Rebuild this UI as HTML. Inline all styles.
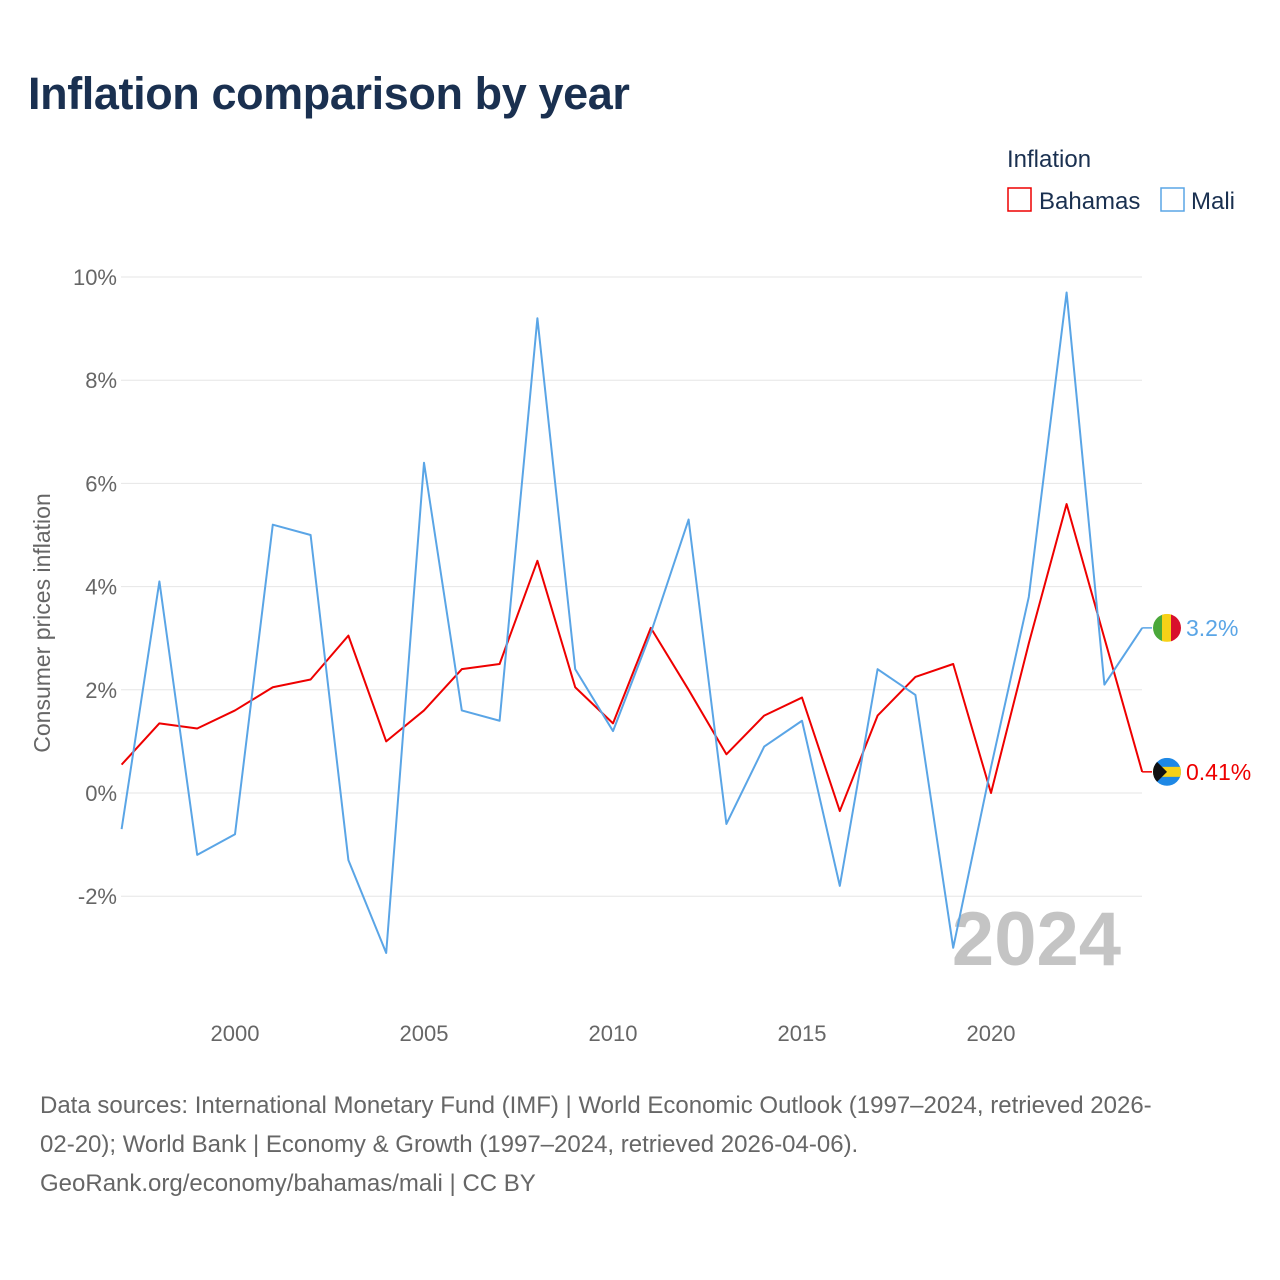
<!DOCTYPE html>
<html><head><meta charset="utf-8">
<style>
body{margin:0;background:#fff;font-family:"Liberation Sans",sans-serif;}
#wrap{position:relative;width:1280px;height:1280px;overflow:hidden;}
h1{position:absolute;left:28px;top:68px;margin:0;font-size:45px;font-weight:bold;color:#1a3050;letter-spacing:-0.4px;}
.src{position:absolute;left:40px;top:1086px;font-size:24px;line-height:39px;color:#666;width:1240px;white-space:nowrap;}
</style></head><body>
<div id="wrap">
<h1>Inflation comparison by year</h1>
<svg id="chart" width="1280" height="1280" style="position:absolute;left:0;top:0"></svg>
<div class="src">Data sources: International Monetary Fund (IMF) | World Economic Outlook (1997–2024, retrieved 2026-<br>02-20); World Bank | Economy &amp; Growth (1997–2024, retrieved 2026-04-06).<br>GeoRank.org/economy/bahamas/mali | CC BY</div>
</div>
<script>
const years=[1997,1998,1999,2000,2001,2002,2003,2004,2005,2006,2007,2008,2009,2010,2011,2012,2013,2014,2015,2016,2017,2018,2019,2020,2021,2022,2023,2024];
const bahamas=[0.55,1.35,1.25,1.6,2.05,2.2,3.05,1.0,1.6,2.4,2.5,4.5,2.05,1.35,3.2,2.0,0.75,1.5,1.85,-0.35,1.5,2.25,2.5,0.0,2.9,5.6,3.0,0.41];
const mali=[-0.7,4.1,-1.2,-0.8,5.2,5.0,-1.3,-3.1,6.4,1.6,1.4,9.2,2.4,1.2,3.1,5.3,-0.6,0.9,1.4,-1.8,2.4,1.9,-3.0,0.5,3.8,9.7,2.1,3.2];
const yTicks=[-2,0,2,4,6,8,10];
const yTickLabels=["-2%","0%","2%","4%","6%","8%","10%"];
const xTicks=[2000,2005,2010,2015,2020];
const NS="http://www.w3.org/2000/svg";
const svg=document.getElementById('chart');
const X=y=>121.6+(y-1997)*37.8;
const Y=v=>793-v*51.6;
function mk(t,a,txt){const e=document.createElementNS(NS,t);for(const k in a)e.setAttribute(k,a[k]);if(txt!==undefined)e.textContent=txt;svg.appendChild(e);return e;}
yTicks.forEach((t,i)=>{
 const g=mk('line',{x1:121,x2:1142,y1:Y(t),y2:Y(t),stroke:'#e6e6e6','stroke-width':1});
 
 const l=mk('text',{x:117,y:Y(t)+8,'text-anchor':'end','font-size':22,fill:'#666'},yTickLabels[i]);
 
});
xTicks.forEach(t=>{
 const l=mk('text',{x:X(t),y:1041,'text-anchor':'middle','font-size':22,fill:'#666'},t);
 
});
const yt=mk('text',{x:0,y:0,'font-size':23,fill:'#666','text-anchor':'middle',transform:'translate(50,623) rotate(-90)'},'Consumer prices inflation');

const wm=mk('text',{x:1121,y:965,'text-anchor':'end','font-size':76,'font-weight':'bold',fill:'#c4c4c4'},'2024');

function series(vals,col,name){
 const p=mk('polyline',{points:vals.map((v,i)=>X(years[i])+','+Y(v)).join(' '),fill:'none',stroke:col,'stroke-width':2,'stroke-linejoin':'round'});
 
 const last=vals[vals.length-1];
 const ly=Y(last);
 const c=mk('line',{x1:X(2024),x2:1152,y1:ly,y2:ly,stroke:col,'stroke-width':1.5});
 
 return ly;
}
const lb=series(bahamas,'#ee0000','bahamas');
const lm=series(mali,'#5aa5e6','mali');
const fm=mk('g',{});
fm.innerHTML=`<clipPath id="cm"><circle cx="1167" cy="${lm}" r="14"/></clipPath><g clip-path="url(#cm)"><rect x="1153" y="${lm-14}" width="10" height="28" fill="#4aa83a"/><rect x="1162" y="${lm-14}" width="10" height="28" fill="#f7d117"/><rect x="1171" y="${lm-14}" width="10" height="28" fill="#d8102c"/></g>`;
const fb=mk('g',{});
fb.innerHTML=`<clipPath id="cb"><circle cx="1167" cy="${lb}" r="14"/></clipPath><g clip-path="url(#cb)"><rect x="1153" y="${lb-14}" width="28" height="28" fill="#1e88e5"/><rect x="1153" y="${lb-5}" width="28" height="10" fill="#f7d117"/><polygon points="1153,${lb-14} 1167,${lb} 1153,${lb+14}" fill="#111"/></g>`;
const vm=mk('text',{x:1186,y:lm+8,'font-size':23,fill:'#5aa5e6'},mali[mali.length-1]+'%');

const vb=mk('text',{x:1186,y:lb+8,'font-size':23,fill:'#ee0000'},bahamas[bahamas.length-1]+'%');

const lt=mk('text',{x:1007,y:167,'font-size':24,fill:'#1a3050'},'Inflation');

const r1=mk('rect',{x:1008,y:188,width:23,height:23,fill:'none',stroke:'#ee0000','stroke-width':1.5});

const t1=mk('text',{x:1039,y:209,'font-size':24,fill:'#1a3050'},'Bahamas');

const r2=mk('rect',{x:1161,y:188,width:23,height:23,fill:'none',stroke:'#5aa5e6','stroke-width':1.5});

const t2=mk('text',{x:1191,y:209,'font-size':24,fill:'#1a3050'},'Mali');

</script>
</body></html>
